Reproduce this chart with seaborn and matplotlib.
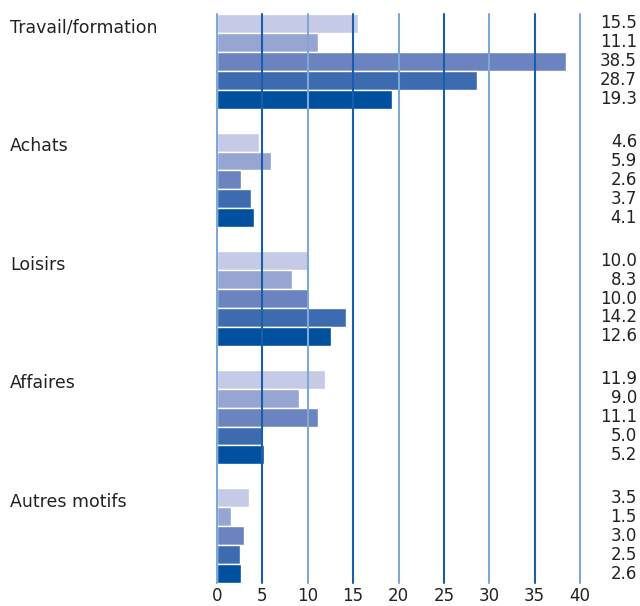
import matplotlib
matplotlib.use("Agg")
import matplotlib.pyplot as plt
import matplotlib.transforms as mtransforms
import pandas as pd
import seaborn as sns

# Travel purposes and the share (%) for each of the five series
categories = ["Travail/formation", "Achats", "Loisirs", "Affaires", "Autres motifs"]
series = ["S1", "S2", "S3", "S4", "S5"]
values = {
    "S1": [15.5, 4.6, 10.0, 11.9, 3.5],
    "S2": [11.1, 5.9, 8.3, 9.0, 1.5],
    "S3": [38.5, 2.6, 10.0, 11.1, 3.0],
    "S4": [28.7, 3.7, 14.2, 5.0, 2.5],
    "S5": [19.3, 4.1, 12.6, 5.2, 2.6],
}
colors = ["#C5CAE6", "#96A5D1", "#6B84C0", "#3D6BB0", "#0050A0"]
xticks = [0, 5, 10, 15, 20, 25, 30, 35, 40]

rows = []
for s in series:
    for c, v in zip(categories, values[s]):
        rows.append({"motif": c, "serie": s, "pct": v})
df = pd.DataFrame(rows)

sns.set_theme(style="white")
plt.rcParams["font.family"] = ["DejaVu Sans"]

fig = plt.figure(figsize=(6.4, 6.06), dpi=100)
ax = fig.add_axes([217 / 640, 1 - 583 / 606, 363 / 640, 569 / 606])

sns.barplot(data=df, y="motif", x="pct", hue="serie", order=categories,
            hue_order=series, palette=colors, saturation=1, orient="h", width=0.8,
            edgecolor="white", linewidth=1.0, legend=False, ax=ax, zorder=1)

ax.set_xlim(0, 40)
ax.set_ylim(4.4, -0.4)

# vertical grid drawn over the bars, alternating light / dark blue
for t in xticks:
    col = "#7FA8D6" if t % 10 == 0 else "#1A5EAA"
    ax.axvline(t, color=col, lw=1.5, zorder=3, clip_on=False)

for sp in ax.spines.values():
    sp.set_visible(False)
ax.set_xticks(xticks)
ax.set_xticklabels([str(t) for t in xticks], fontsize=12, color="#222222")
ax.tick_params(axis="x", length=0, pad=3)
ax.set_yticks([])
ax.set_xlabel("")
ax.set_ylabel("")

# category names beside the first bar of each group, values at the right edge
label_tr = mtransforms.blended_transform_factory(fig.transFigure, ax.transData)
cat_tr = label_tr + mtransforms.ScaledTranslation(0, -4 / 100, fig.dpi_scale_trans)
n = len(series)
bw = 0.8 / n
for i, c in enumerate(categories):
    y0 = i - 0.4 + bw / 2
    ax.text(10 / 640, y0, c, transform=cat_tr, ha="left", va="center",
            fontsize=12.5, color="#222222")
    for j, s in enumerate(series):
        ax.text(637 / 640, y0 + j * bw, f"{values[s][i]:.1f}", transform=label_tr,
                ha="right", va="center", fontsize=12, color="#222222")

fig.savefig("out.png", dpi=100)
